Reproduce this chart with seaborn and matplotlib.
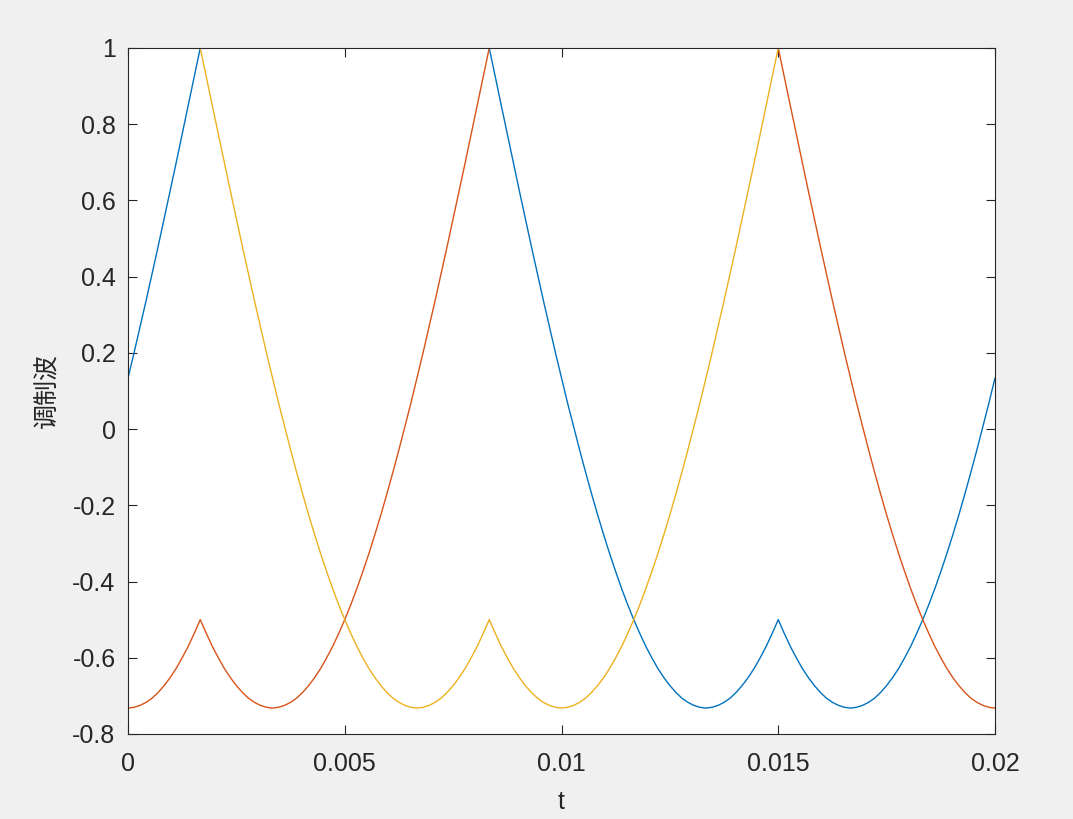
import matplotlib
matplotlib.use('Agg')
import matplotlib.pyplot as plt
import seaborn as sns
import pandas as pd

sns.set_style('ticks')
plt.rcParams['font.family'] = ['Liberation Sans', 'Noto Sans CJK SC', 'DejaVu Sans']

# time axis (s), 2.5 degree steps over one 50 Hz period
t = [0, 0.0001389, 0.0002778, 0.0004167, 0.0005556, 0.0006944, 0.0008333, 0.0009722, 0.0011111,
     0.00125, 0.0013889, 0.0015278, 0.0016667, 0.0018056, 0.0019444, 0.0020833, 0.0022222, 0.0023611,
     0.0025, 0.0026389, 0.0027778, 0.0029167, 0.0030556, 0.0031944, 0.0033333, 0.0034722, 0.0036111,
     0.00375, 0.0038889, 0.0040278, 0.0041667, 0.0043056, 0.0044444, 0.0045833, 0.0047222, 0.0048611,
     0.005, 0.0051389, 0.0052778, 0.0054167, 0.0055556, 0.0056944, 0.0058333, 0.0059722, 0.0061111,
     0.00625, 0.0063889, 0.0065278, 0.0066667, 0.0068056, 0.0069444, 0.0070833, 0.0072222, 0.0073611,
     0.0075, 0.0076389, 0.0077778, 0.0079167, 0.0080556, 0.0081944, 0.0083333, 0.0084722, 0.0086111,
     0.00875, 0.0088889, 0.0090278, 0.0091667, 0.0093056, 0.0094444, 0.0095833, 0.0097222, 0.0098611,
     0.01, 0.0101389, 0.0102778, 0.0104167, 0.0105556, 0.0106944, 0.0108333, 0.0109722, 0.0111111,
     0.01125, 0.0113889, 0.0115278, 0.0116667, 0.0118056, 0.0119444, 0.0120833, 0.0122222, 0.0123611,
     0.0125, 0.0126389, 0.0127778, 0.0129167, 0.0130556, 0.0131944, 0.0133333, 0.0134722, 0.0136111,
     0.01375, 0.0138889, 0.0140278, 0.0141667, 0.0143056, 0.0144444, 0.0145833, 0.0147222, 0.0148611,
     0.015, 0.0151389, 0.0152778, 0.0154167, 0.0155556, 0.0156944, 0.0158333, 0.0159722, 0.0161111,
     0.01625, 0.0163889, 0.0165278, 0.0166667, 0.0168056, 0.0169444, 0.0170833, 0.0172222, 0.0173611,
     0.0175, 0.0176389, 0.0177778, 0.0179167, 0.0180556, 0.0181944, 0.0183333, 0.0184722, 0.0186111,
     0.01875, 0.0188889, 0.0190278, 0.0191667, 0.0193056, 0.0194444, 0.0195833, 0.0197222, 0.0198611,
     0.02]

# modulation wave, phase a (blue)
wave_a = [0.134, 0.200, 0.268, 0.337, 0.408, 0.479, 0.552, 0.625, 0.699, 0.774, 0.849, 0.924,
          1, 1, 1, 1, 1, 1, 1, 1, 1, 1, 1, 1, 1, 1, 1, 1, 1, 1, 1, 1, 1, 1, 1, 1, 1,
          1, 1, 1, 1, 1, 1, 1, 1, 1, 1, 1, 1, 1, 1, 1, 1, 1, 1, 1, 1, 1, 1, 1, 1,
          0.924, 0.849, 0.774, 0.699, 0.625, 0.552, 0.479, 0.408, 0.337, 0.268, 0.200, 0.134,
          0.069, 0.007, -0.054, -0.113, -0.170, -0.225, -0.277, -0.327, -0.374, -0.419, -0.461, -0.500,
          -0.536, -0.570, -0.600, -0.628, -0.652, -0.673, -0.691, -0.706, -0.717, -0.725, -0.730, -0.732,
          -0.730, -0.725, -0.717, -0.706, -0.691, -0.673, -0.652, -0.628, -0.600, -0.570, -0.536, -0.500,
          -0.536, -0.570, -0.600, -0.628, -0.652, -0.673, -0.691, -0.706, -0.717, -0.725, -0.730, -0.732,
          -0.730, -0.725, -0.717, -0.706, -0.691, -0.673, -0.652, -0.628, -0.600, -0.570, -0.536, -0.500,
          -0.461, -0.419, -0.374, -0.327, -0.277, -0.225, -0.170, -0.113, -0.054, 0.007, 0.069, 0.134]

# phase b (red)
wave_b = [-0.732, -0.730, -0.725, -0.717, -0.706, -0.691, -0.673, -0.652, -0.628, -0.600, -0.570, -0.536, -0.500,
          -0.536, -0.570, -0.600, -0.628, -0.652, -0.673, -0.691, -0.706, -0.717, -0.725, -0.730, -0.732,
          -0.730, -0.725, -0.717, -0.706, -0.691, -0.673, -0.652, -0.628, -0.600, -0.570, -0.536, -0.500,
          -0.461, -0.419, -0.374, -0.327, -0.277, -0.225, -0.170, -0.113, -0.054, 0.007, 0.069,
          0.134, 0.200, 0.268, 0.337, 0.408, 0.479, 0.552, 0.625, 0.699, 0.774, 0.849, 0.924,
          1, 1, 1, 1, 1, 1, 1, 1, 1, 1, 1, 1, 1, 1, 1, 1, 1, 1, 1, 1, 1, 1, 1, 1, 1,
          1, 1, 1, 1, 1, 1, 1, 1, 1, 1, 1, 1, 1, 1, 1, 1, 1, 1, 1, 1, 1, 1, 1, 1,
          0.924, 0.849, 0.774, 0.699, 0.625, 0.552, 0.479, 0.408, 0.337, 0.268, 0.200, 0.134,
          0.069, 0.007, -0.054, -0.113, -0.170, -0.225, -0.277, -0.327, -0.374, -0.419, -0.461, -0.500,
          -0.536, -0.570, -0.600, -0.628, -0.652, -0.673, -0.691, -0.706, -0.717, -0.725, -0.730, -0.732]

# phase c (yellow)
wave_c = [1, 1, 1, 1, 1, 1, 1, 1, 1, 1, 1, 1, 1,
          0.924, 0.849, 0.774, 0.699, 0.625, 0.552, 0.479, 0.408, 0.337, 0.268, 0.200, 0.134,
          0.069, 0.007, -0.054, -0.113, -0.170, -0.225, -0.277, -0.327, -0.374, -0.419, -0.461, -0.500,
          -0.536, -0.570, -0.600, -0.628, -0.652, -0.673, -0.691, -0.706, -0.717, -0.725, -0.730, -0.732,
          -0.730, -0.725, -0.717, -0.706, -0.691, -0.673, -0.652, -0.628, -0.600, -0.570, -0.536, -0.500,
          -0.536, -0.570, -0.600, -0.628, -0.652, -0.673, -0.691, -0.706, -0.717, -0.725, -0.730, -0.732,
          -0.730, -0.725, -0.717, -0.706, -0.691, -0.673, -0.652, -0.628, -0.600, -0.570, -0.536, -0.500,
          -0.461, -0.419, -0.374, -0.327, -0.277, -0.225, -0.170, -0.113, -0.054, 0.007, 0.069,
          0.134, 0.200, 0.268, 0.337, 0.408, 0.479, 0.552, 0.625, 0.699, 0.774, 0.849, 0.924,
          1, 1, 1, 1, 1, 1, 1, 1, 1, 1, 1, 1, 1, 1, 1, 1, 1, 1, 1, 1, 1, 1, 1, 1, 1,
          1, 1, 1, 1, 1, 1, 1, 1, 1, 1, 1, 1]

phases = ['a', 'b', 'c']
colors = ['#0072BD', '#D95319', '#EDB120']

x_ticks = [0, 0.005, 0.01, 0.015, 0.02]
x_labels = ['0', '0.005', '0.01', '0.015', '0.02']
y_ticks = [-0.8, -0.6, -0.4, -0.2, 0, 0.2, 0.4, 0.6, 0.8, 1]
y_labels = ['-0.8', '-0.6', '-0.4', '-0.2', '0', '0.2', '0.4', '0.6', '0.8', '1']

df = pd.concat([
    pd.DataFrame({'t': t, 'v': w, 'phase': p})
    for p, w in zip(phases, [wave_a, wave_b, wave_c])
], ignore_index=True)

fig = plt.figure(figsize=(10.73, 8.19), dpi=100, facecolor='#F0F0F0')
ax = fig.add_axes([0.1193, 0.1038, 0.808, 0.8376])
ax.set_facecolor('white')

sns.lineplot(data=df, x='t', y='v', hue='phase', palette=colors, estimator=None,
             sort=False, linewidth=1.0, legend=False, ax=ax)

ax.set_xlim(0, 0.02)
ax.set_ylim(-0.8, 1)
ax.set_xticks(x_ticks)
ax.set_xticklabels(x_labels)
ax.set_yticks(y_ticks)
ax.set_yticklabels(y_labels)

dark = '#262626'
for s in ax.spines.values():
    s.set_visible(True)
    s.set_color(dark)
    s.set_linewidth(0.8)
ax.tick_params(direction='in', top=True, right=True, length=6.5, width=0.8,
               colors=dark, labelsize=18)
ax.tick_params(axis='x', pad=13)
ax.tick_params(axis='y', pad=9)

ax.set_xlabel('t', fontsize=18, color=dark, labelpad=10)
ax.set_ylabel('调制波', fontsize=18, color=dark, labelpad=9)

fig.savefig('out.png', dpi=100, facecolor=fig.get_facecolor())
